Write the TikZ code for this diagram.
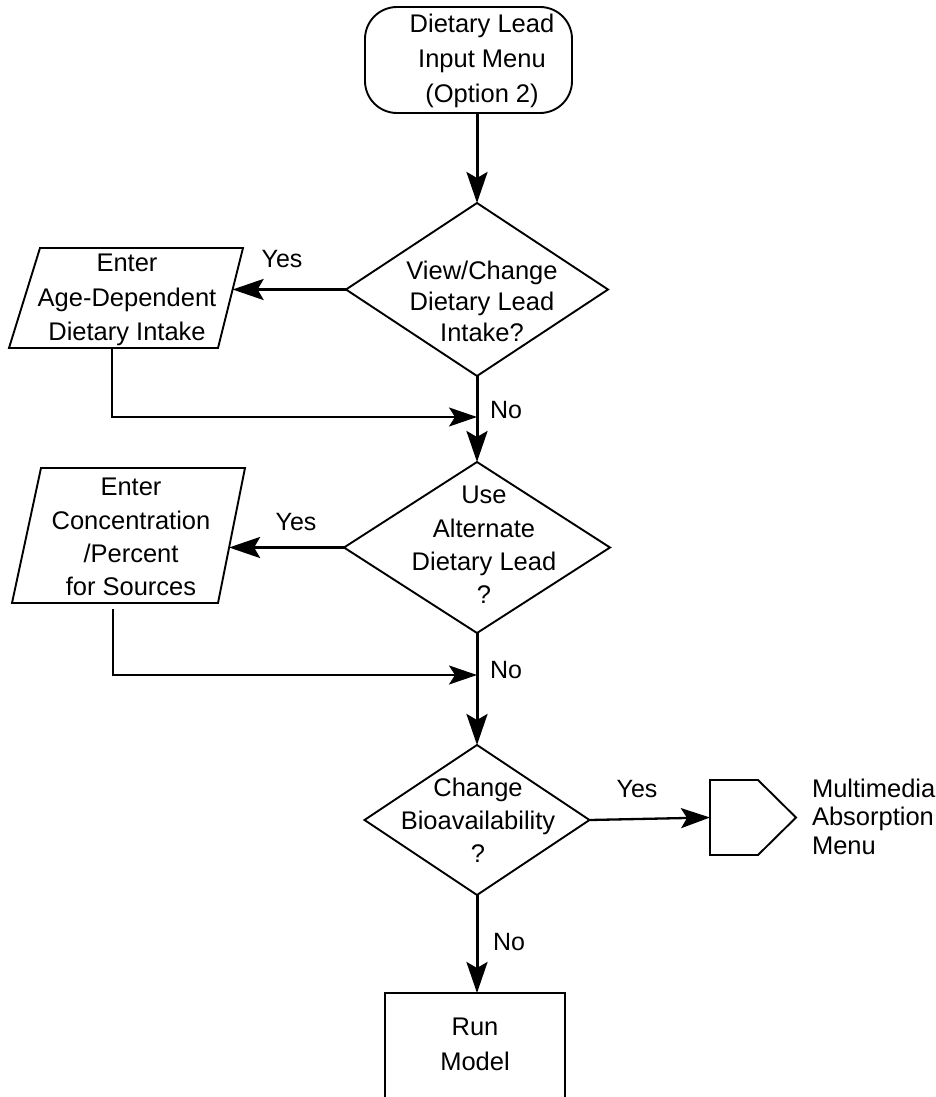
\documentclass[tikz,border=0pt]{standalone}
\usepackage{fontspec}
\setmainfont{Liberation Sans}
\usetikzlibrary{shapes.geometric,arrows.meta}
\begin{document}
\begin{tikzpicture}[x=1pt,y=-1pt,
  outline/.style={draw, line width=1.9pt},
  txt/.style={align=center, inner sep=0pt, outer sep=0pt},
  lbl/.style={font=\fontsize{25}{30}\selectfont, inner sep=0pt},
  flow/.style={line width=3pt, -{Stealth[length=31pt,width=21pt,inset=6pt]}},
  flowthin/.style={line width=2.3pt, -{Stealth[length=29pt,width=20pt,inset=6pt]}},
  back/.style={line width=1.9pt, -{Stealth[length=28pt,width=19pt,inset=6pt]}},
  decision/.style={outline, shape=diamond, inner sep=0pt, outer sep=0pt},
]
\useasboundingbox (0,0) rectangle (936,1097);
\clip (0,0) rectangle (936,1097);

% start terminal
\node[outline, rounded corners=32pt, minimum width=207pt, minimum height=106pt,
      inner sep=0pt, outer sep=0pt] (start) at (468.5,60) {};
\node[txt, font=\fontsize{25.5}{35}\selectfont] (starttxt) at (482,60.5)
  {Dietary Lead\\Input Menu\\(Option 2)};

% decisions
\node[decision, minimum width=262pt, minimum height=173pt] (d1) at (477,289.5) {};
\node[txt, font=\fontsize{25.5}{31}\selectfont] (d1txt) at (482,301)
  {View/Change\\Dietary Lead\\Intake?};

\node[decision, minimum width=266pt, minimum height=171pt] (d2) at (477,547.5) {};
\node[txt, font=\fontsize{25.5}{33.3}\selectfont] (d2txt) at (484,545)
  {Use\\Alternate\\Dietary Lead\\?};

\node[decision, minimum width=225pt, minimum height=150pt] (d3) at (477,820) {};
\node[txt, font=\fontsize{25.5}{33}\selectfont] (d3txt) at (478,820)
  {Change\\Bioavailability\\?};

% input parallelograms
\coordinate (p1nw) at (40,248);
\coordinate (p1ne) at (243,248);
\coordinate (p1se) at (218,348);
\coordinate (p1sw) at (9,348);
\draw[outline] (p1nw) -- (p1ne) -- (p1se) -- (p1sw) -- cycle;
\node[txt, font=\fontsize{25.5}{34.5}\selectfont] (p1) at (127,300)
  {Enter\\Age-Dependent\\Dietary Intake};
\coordinate (p1in) at (232.6,289.5);
\coordinate (p1out) at (112,348);

\coordinate (p2nw) at (41,468);
\coordinate (p2ne) at (245,468);
\coordinate (p2se) at (218,603);
\coordinate (p2sw) at (12,603);
\draw[outline] (p2nw) -- (p2ne) -- (p2se) -- (p2sw) -- cycle;
\node[txt, font=\fontsize{25.5}{33.3}\selectfont] (p2) at (131,537)
  {Enter\\Concentration\\/Percent\\for Sources};
\coordinate (p2in) at (229.1,547.5);
\coordinate (p2out) at (113,603);

% off-page connector
\node[minimum width=86pt, minimum height=75pt, inner sep=0pt, outer sep=0pt,
      anchor=west] (mm) at (710,817.5) {};
\draw[outline] (mm.north west) -- ([xshift=48pt]mm.north west) -- (mm.east)
  -- ([xshift=48pt]mm.south west) -- (mm.south west) -- cycle;
\node[txt, align=left, anchor=west, font=\fontsize{25.5}{28.5}\selectfont] (mmtxt)
  at (812,816.5) {Multimedia\\Absorption\\Menu};

% process box
\node[outline, minimum width=180pt, minimum height=140pt, inner sep=0pt,
      outer sep=0pt] (run) at (475,1063) {};
\node[txt, font=\fontsize{25.5}{35}\selectfont] (runtxt) at (475,1044.5) {Run\\Model};

% junction points on the main line
\coordinate (j1) at (477,417);
\coordinate (j2) at (477,675);

% connectors
\draw[flow] (start.south -| d1.north) -- (d1.north);
\draw[flow] (d1.west) -- (p1in);
\draw[back] (p1out) |- (j1);
\draw[flow] (d1.south) -- (d2.north);
\draw[flow] (d2.west) -- (p2in);
\draw[back] ([yshift=-6pt]p2out) |- (j2);
\draw[flow] (d2.south) -- (d3.north);
\draw[flowthin] (d3.east) -- (mm.west);
\draw[flow] (d3.south) -- (d3.south |- run.north);

% branch labels
\node[lbl] (yes1) at (282,259.5) {Yes};
\node[lbl] (no1) at (506,410) {No};
\node[lbl] (yes2) at (296,522.5) {Yes};
\node[lbl] (no2) at (506,670) {No};
\node[lbl] (yes3) at (637,789.5) {Yes};
\node[lbl] (no3) at (509,942) {No};
\end{tikzpicture}
\end{document}
